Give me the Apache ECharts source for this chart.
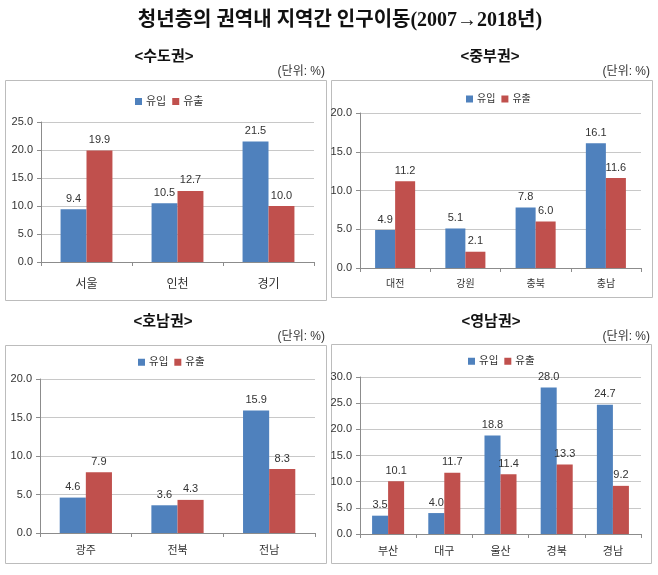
<!DOCTYPE html>
<html>
<head>
<meta charset="utf-8">
<script src="https://cdn.jsdelivr.net/npm/echarts@6/dist/echarts.min.js"></script>
<style>
  html, body { margin: 0; padding: 0; background: #fff; }
  #chart { width: 658px; height: 575px; }
</style>
</head>
<body>
<div id="chart"></div>
<script>
// 청년층의 권역내 지역간 인구이동 (2007→2018년), 단위: %
const mainTitle = '청년층의 권역내 지역간 인구이동(2007→2018년)'
const regionNames = ['<수도권>', '<중부권>', '<호남권>', '<영남권>']
const unitLabel = '(단위: %)'
const seriesNames = ['유입', '유출']

const capitalCities = ['서울', '인천', '경기']
const capitalIn = [9.4, 10.5, 21.5]
const capitalOut = [19.9, 12.7, 10.0]

const centralCities = ['대전', '강원', '충북', '충남']
const centralIn = [4.9, 5.1, 7.8, 16.1]
const centralOut = [11.2, 2.1, 6.0, 11.6]

const honamCities = ['광주', '전북', '전남']
const honamIn = [4.6, 3.6, 15.9]
const honamOut = [7.9, 4.3, 8.3]

const yeongnamCities = ['부산', '대구', '울산', '경북', '경남']
const yeongnamIn = [3.5, 4.0, 18.8, 28.0, 24.7]
const yeongnamOut = [10.1, 11.7, 11.4, 13.3, 9.2]

const yMax = [25, 20, 20, 30]

const BLUE = '#4f81bd'
const RED = '#c0504d'
const FONT = "'Liberation Sans', 'Noto Sans CJK KR', sans-serif"

// layout of the four panels
const panels = [
  { cats: capitalCities, inflow: capitalIn, outflow: capitalOut,
    box: [5, 80, 321, 220], grid: { left: 41, right: 344, top: 122, bottom: 313 },
    legend: { left: 130, top: 91 }, title: [164, 57], unit: [325, 72], catSize: 12, catMargin: 17, legendSize: 11 },
  { cats: centralCities, inflow: centralIn, outflow: centralOut,
    box: [331, 80, 321, 217], grid: { left: 360, right: 17, top: 113, bottom: 307 },
    legend: { left: 461, top: 89 }, title: [490, 57], unit: [650, 72], catSize: 10, catMargin: 11, legendSize: 10 },
  { cats: honamCities, inflow: honamIn, outflow: honamOut,
    box: [5, 345, 321, 218], grid: { left: 40, right: 343, top: 379, bottom: 42 },
    legend: { left: 133, top: 352 }, title: [163, 322], unit: [325, 337], catSize: 11, catMargin: 12, legendSize: 10.5 },
  { cats: yeongnamCities, inflow: yeongnamIn, outflow: yeongnamOut,
    box: [331, 344, 320, 219], grid: { left: 360, right: 17, top: 377, bottom: 41 },
    legend: { left: 463, top: 351 }, title: [491, 322], unit: [650, 337], catSize: 11, catMargin: 12, legendSize: 10.5 }
]

const chart = echarts.init(document.getElementById('chart'))

const graphic = [{
  type: 'text', x: 340, y: 21, z: 10,
  style: { text: mainTitle, fill: '#111', align: 'center', verticalAlign: 'middle',
    font: "bold 20px 'Liberation Serif', 'Noto Sans CJK KR', serif" }
}]
panels.forEach((p, i) => {
  graphic.push({
    type: 'rect', shape: { x: p.box[0] + 0.5, y: p.box[1] + 0.5, width: p.box[2], height: p.box[3] },
    style: { fill: 'none', stroke: '#bcbcbc', lineWidth: 1 }, z: -1
  })
  graphic.push({
    type: 'text', x: p.title[0], y: p.title[1], z: 10,
    style: { text: regionNames[i], fill: '#111', align: 'center', verticalAlign: 'middle',
      font: 'bold 15px ' + FONT }
  })
  graphic.push({
    type: 'text', x: p.unit[0], y: p.unit[1], z: 10,
    style: { text: unitLabel, fill: '#333', align: 'right', verticalAlign: 'middle',
      font: '12px ' + FONT }
  })
})

const option = {
  backgroundColor: '#fff',
  textStyle: { fontFamily: FONT },
  animation: false,
  graphic: graphic,
  legend: panels.map(p => ({
    data: seriesNames, left: p.legend.left, top: p.legend.top,
    icon: 'rect', itemWidth: 7, itemHeight: 7, itemGap: 6,
    textStyle: { fontSize: p.legendSize, color: '#333', padding: [0, 0, 0, -1] }
  })),
  grid: panels.map(p => p.grid),
  xAxis: panels.map((p, i) => ({
    type: 'category', gridIndex: i, data: p.cats,
    axisLine: { lineStyle: { color: '#8c8c8c' } },
    axisTick: { show: true, length: 4, lineStyle: { color: '#8c8c8c' } },
    axisLabel: { color: '#333', fontSize: p.catSize, margin: p.catMargin }
  })),
  yAxis: panels.map((p, i) => ({
    type: 'value', gridIndex: i, min: 0, max: yMax[i], interval: 5,
    axisLine: { show: true, lineStyle: { color: '#8c8c8c' } },
    axisTick: { show: true, length: 4, lineStyle: { color: '#8c8c8c' } },
    splitLine: { lineStyle: { color: '#c8c8c8' } },
    axisLabel: { color: '#333', fontSize: 11, margin: 8, formatter: v => v.toFixed(1) }
  })),
  series: panels.flatMap((p, i) => [
    { name: seriesNames[0], type: 'bar', xAxisIndex: i, yAxisIndex: i, data: p.inflow,
      barGap: '0%', barCategoryGap: '43%', itemStyle: { color: BLUE },
      label: { show: true, position: 'top', distance: 5, color: '#333', fontSize: 11, formatter: d => d.value.toFixed(1) } },
    { name: seriesNames[1], type: 'bar', xAxisIndex: i, yAxisIndex: i, data: p.outflow,
      barGap: '0%', barCategoryGap: '43%', itemStyle: { color: RED },
      label: { show: true, position: 'top', distance: 5, color: '#333', fontSize: 11, formatter: d => d.value.toFixed(1) } }
  ])
}

chart.setOption(option)
</script>
</body>
</html>
